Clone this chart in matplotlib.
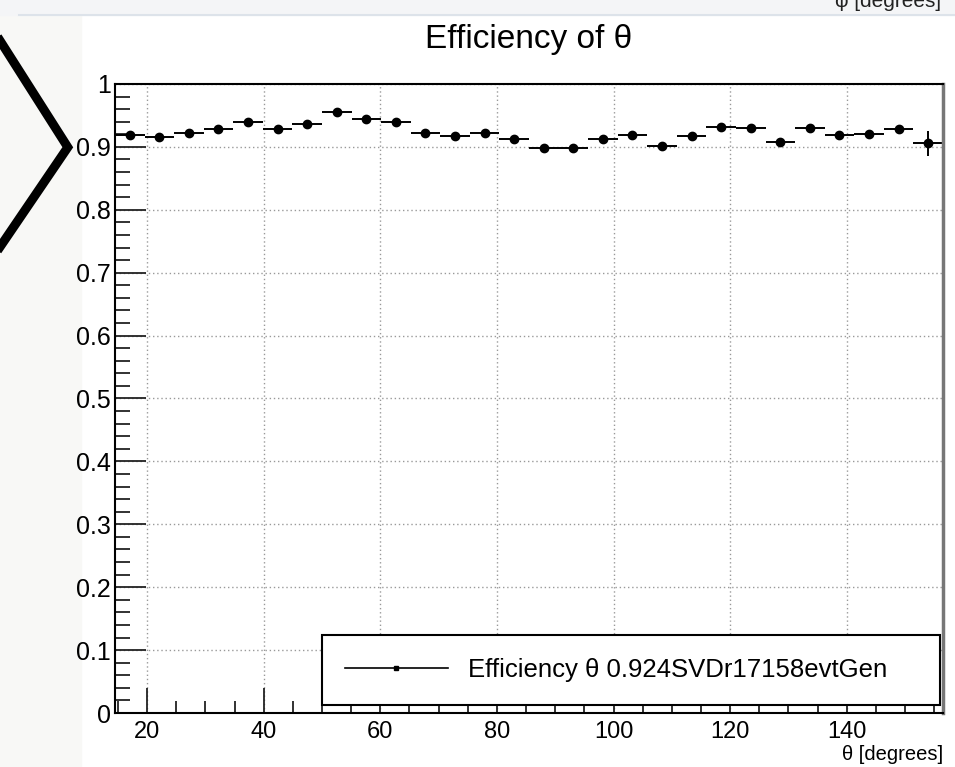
import matplotlib
matplotlib.use("Agg")
import matplotlib.pyplot as plt
from matplotlib.lines import Line2D
from matplotlib.ticker import MultipleLocator, FormatStrFormatter
import numpy as np

plt.rcParams['font.family'] = ['Liberation Sans', 'DejaVu Sans']

# efficiency per theta bin
theta_lo, theta_hi = 14.5, 156.5
efficiency = [0.919, 0.916, 0.922, 0.928, 0.940, 0.928, 0.936,
              0.956, 0.944, 0.940, 0.922, 0.917, 0.922, 0.912,
              0.898, 0.898, 0.912, 0.919, 0.902, 0.917, 0.932,
              0.930, 0.907, 0.930, 0.919, 0.920, 0.928, 0.906]
eff_err = [0.004, 0.004, 0.004, 0.004, 0.004, 0.004, 0.004,
           0.004, 0.004, 0.004, 0.004, 0.004, 0.004, 0.004,
           0.004, 0.004, 0.004, 0.004, 0.004, 0.004, 0.004,
           0.004, 0.006, 0.005, 0.006, 0.006, 0.007, 0.020]
legend_label = "Efficiency \u03b8 0.924SVDr17158evtGen"

edges = np.linspace(theta_lo, theta_hi, len(efficiency) + 1)
centers = 0.5 * (edges[:-1] + edges[1:])
half_width = 0.5 * (edges[1:] - edges[:-1])

fig = plt.figure(figsize=(9.55, 7.67), dpi=100)
fig.patch.set_facecolor('white')

# off-white strip on the left and the cut-off panel strip at the top
fig.patches.append(plt.Rectangle((0, 0), 0.085, 0.98, transform=fig.transFigure,
                                 color='#f8f8f6', zorder=-10))
fig.patches.append(plt.Rectangle((0, 0.98), 1, 0.02, transform=fig.transFigure,
                                 color='#f4f5f7', zorder=-10))
fig.lines.append(plt.Line2D([0.02, 1], [0.98, 0.98], transform=fig.transFigure,
                            color='#dde3ea', lw=1.5, zorder=-5))
fig.text(0.985, 0.998, "\u03c6 [degrees]", ha='right', va='center', fontsize=15,
         color='#222222')

# the hand drawn chevron on the left
fig.lines.append(plt.Line2D([0.0, 0.071, 0.0], [0.947, 0.808, 0.678],
                            transform=fig.transFigure, color='black', lw=6.5,
                            solid_joinstyle='miter'))

ax = fig.add_axes([0.1204, 0.0704, 0.8670, 0.8201])
ax.errorbar(centers, efficiency, xerr=half_width, yerr=eff_err, fmt='o',
            color='black', ms=6, lw=1.4, capsize=0)

ax.set_xlim(theta_lo, theta_hi)
ax.set_ylim(0, 1)
ax.xaxis.set_major_locator(MultipleLocator(20))
ax.xaxis.set_minor_locator(MultipleLocator(5))
ax.yaxis.set_major_locator(MultipleLocator(0.1))
ax.yaxis.set_minor_locator(MultipleLocator(0.02))
ax.yaxis.set_major_formatter(FormatStrFormatter('%g'))

ax.tick_params(which='both', direction='in', top=False, right=False,
               labelsize=18, width=1.3, color='#222222')
ax.tick_params(axis='x', which='major', length=18, pad=6, labelsize=17)
ax.tick_params(axis='x', which='minor', length=9)
ax.tick_params(axis='y', which='major', length=22, pad=3)
ax.tick_params(axis='y', which='minor', length=11)
for s in ax.spines.values():
    s.set_linewidth(1.5)
ax.spines['right'].set_color('#777777')
ax.spines['right'].set_linewidth(2.5)

ax.grid(True, which='major', color='#999999', linestyle=(0, (1, 2)), lw=1)

ax.set_title("Efficiency of \u03b8", fontsize=24, pad=26)
ax.set_xlabel("\u03b8 [degrees]", fontsize=14.5, loc='right', labelpad=1)

proxy = Line2D([], [], color='black', lw=1.2, marker='s', ms=3.5)
leg = ax.legend(handles=[proxy], labels=[legend_label], loc='lower left',
                bbox_to_anchor=(0.25, 0.0127, 0.746, 0.116), mode='expand',
                borderaxespad=0, fontsize=18.5, handlelength=4.0,
                handletextpad=0.8, borderpad=0.9, fancybox=False,
                framealpha=1, edgecolor='black')
leg.get_frame().set_linewidth(1.5)

fig.savefig('out.png', dpi=100)
